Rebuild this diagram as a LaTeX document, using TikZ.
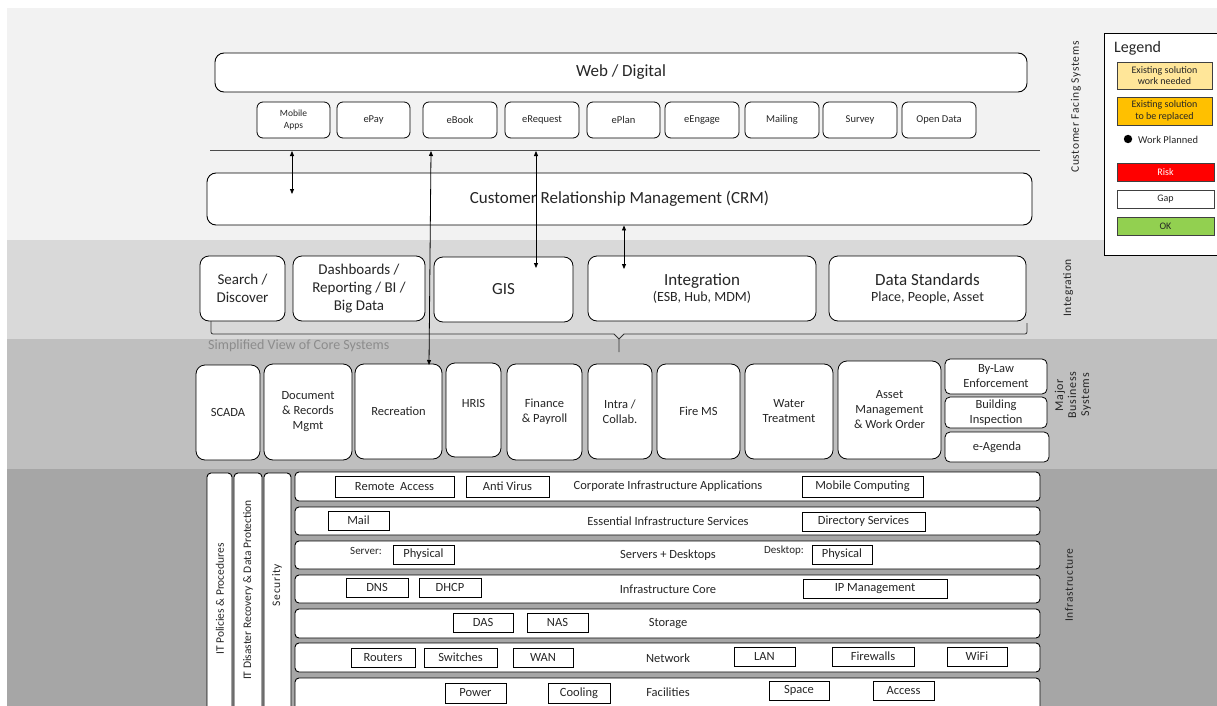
\documentclass[tikz,border=0pt]{standalone}
\usepackage{fontspec}
\setmainfont{Carlito}
\newfontfamily\spaced[LetterSpace=6]{Carlito}
\usetikzlibrary{arrows.meta}
\definecolor{bandA}{HTML}{F2F2F2}
\definecolor{bandB}{HTML}{D9D9D9}
\definecolor{bandC}{HTML}{BFBFBF}
\definecolor{bandD}{HTML}{A6A6A6}
\definecolor{ink}{HTML}{262626}
\definecolor{needwork}{HTML}{FFE699}
\definecolor{replace}{HTML}{FFC000}
\definecolor{risk}{HTML}{FF0000}
\definecolor{okgreen}{HTML}{92D050}
\definecolor{captiongray}{HTML}{8C8C8C}
\newcommand\fs[2]{\fontsize{#1}{#2}\selectfont}
% \cell{options}{x1}{y1}{x2}{y2}{name}{text}: a node filling the given corners
\newcommand\cell[6]{\node[#1, minimum width={(#4)-(#2)}, minimum height={(#5)-(#3)}] (#6) at ({((#2)+(#4))/2},{((#3)+(#5))/2})}

\begin{document}
\begin{tikzpicture}[x=1pt,y=-1pt,
  every node/.style={text=ink, inner sep=0pt, align=center},
  bigbox/.style={draw=black, fill=white, line width=0.9pt, rounded corners=9pt},
  appbox/.style={draw=black, fill=white, line width=0.8pt, rounded corners=6pt, font=\fs{10.5}{12}},
  sysbox/.style={draw=black, fill=white, line width=0.8pt, rounded corners=9pt, font=\fs{12.5}{15}},
  sidebox/.style={draw=black, fill=white, line width=0.8pt, rounded corners=5pt, font=\fs{12.5}{15}},
  layer/.style={draw=black, fill=white, line width=0.9pt, rounded corners=4pt},
  item/.style={draw=black, fill=white, line width=0.7pt, font=\fs{12.5}{15}},
  layertext/.style={font=\fs{12.5}{15}},
  sidetext/.style={font=\spaced\fs{11.5}{14}, rotate=90},
  keybox/.style={draw=black!75, line width=0.8pt, font=\fs{10}{11.5}},
  link/.style={{Triangle[length=5pt,width=4pt]}-{Triangle[length=5pt,width=4pt]}, line width=0.8pt, draw=black}
]
\useasboundingbox (0,0) rectangle (1217,706);
\clip (0,0) rectangle (1217,706);

% ---- background bands
\fill[white] (0,0) rectangle (1217,706);
\fill[bandA] (7,8) rectangle (1217,240);
\fill[bandB] (7,240) rectangle (1217,339);
\fill[bandC] (7,339) rectangle (1217,469);
\fill[bandD] (7,469) rectangle (1217,706);

% ---- customer facing systems
\cell{bigbox, font=\fs{17}{20}}{215}{53}{1027}{92}{web}{Web / Digital};
\cell{appbox, font=\fs{9.5}{11.5}}{257}{102}{330}{138}{mobile}{Mobile\\Apps};
\cell{appbox}{337}{102}{410}{138}{epay}{ePay};
\cell{appbox}{423}{102}{497}{138}{ebook}{eBook};
\cell{appbox}{505}{102}{579}{138}{erequest}{eRequest};
\cell{appbox}{587}{102}{660}{138}{eplan}{ePlan};
\cell{appbox}{665}{102}{739}{138}{eengage}{eEngage};
\cell{appbox}{745}{102}{819}{138}{mailing}{Mailing};
\cell{appbox}{823}{102}{897}{138}{survey}{Survey};
\cell{appbox}{902}{102}{976}{138}{opendata}{Open Data};

\draw[black!70, line width=1pt] (210,150) coordinate (sepL) -- (1040,150) coordinate (sepR);

\cell{bigbox, font=\fs{17}{20}}{207}{173}{1032}{225}{crm}{Customer Relationship Management (CRM)};

% ---- integration
\cell{sysbox, font=\fs{15}{18}}{200}{256}{285}{321}{search}{Search /\\Discover};
\cell{sysbox, font=\fs{15}{18}}{293}{256}{425}{321}{dash}{Dashboards /\\Reporting / BI /\\Big Data};
\cell{sysbox, font=\fs{17}{20}}{434}{257}{573}{322}{gis}{GIS};
\cell{sysbox}{588}{256}{816}{321}{integ}{{\fs{17}{20}Integration}\\[1pt]{\fs{14}{17}(ESB, Hub, MDM)}};
\cell{sysbox}{829}{256}{1026}{321}{datastd}{{\fs{17}{20}Data Standards}\\[1pt]{\fs{14}{17}Place, People, Asset}};

% bracket gathering the core systems
\draw[black!80, line width=0.8pt, rounded corners=2pt] (211,321) |- (614,334);
\draw[black!80, line width=0.8pt, rounded corners=2pt] (624,334) -| (1027,323);
\draw[black!80, line width=0.8pt] (614,334) -- (619,339) -- (624,334) (619,339) -- (619,352);
\node[anchor=west, text=captiongray, font=\fs{14}{17}] (coreview) at (208,346) {Simplified View of Core Systems};

% ---- major business systems
\cell{sysbox}{196}{365}{260}{460}{scada}{SCADA};
\cell{sysbox}{264}{364}{352}{460}{docs}{Document\\\& Records\\Mgmt};
\cell{sysbox}{355}{364}{442}{459}{recreation}{Recreation};
\cell{sysbox}{446}{363}{501}{457}{hris}{};
\node[font=\fs{12.5}{15}] (hristext) at (473.5,403) {HRIS};
\cell{sysbox}{507}{364}{582}{460}{finance}{Finance\\\& Payroll};
\cell{sysbox}{588}{364}{652}{459}{intra}{Intra /\\Collab.};
\cell{sysbox}{657}{364}{740}{459}{fire}{Fire MS};
\cell{sysbox}{745}{364}{833}{459}{water}{Water\\Treatment};
\cell{sysbox}{838}{361}{941}{459}{asset}{Asset\\Management\\\& Work Order};
\cell{sidebox}{945}{359}{1047}{394}{bylaw}{By-Law\\Enforcement};
\cell{sidebox}{945}{397}{1047}{428}{building}{Building\\Inspection};
\cell{sidebox}{945}{432}{1049}{462}{agenda}{e-Agenda};

% ---- infrastructure: cross-cutting columns
\cell{layer}{207}{473}{232}{714}{policies}{};
\cell{layer}{234}{473}{262}{714}{recovery}{};
\cell{layer}{264}{473}{291}{714}{security}{};
\node[sidetext, font=\fs{11.5}{14}] at (220,599) {IT Policies \& Procedures};
\node[sidetext, font=\fs{11.5}{14}] at (248,590) {IT Disaster Recovery \& Data Protection};
\node[sidetext] at (277,585) {Security};

% ---- infrastructure layers
\cell{layer}{295}{472}{1040}{501}{lay1}{};
\cell{layer}{295}{507}{1040}{535}{lay2}{};
\cell{layer}{295}{541}{1040}{569}{lay3}{};
\cell{layer}{295}{575}{1040}{603}{lay4}{};
\cell{layer}{295}{609}{1040}{638}{lay5}{};
\cell{layer}{295}{643}{1040}{672}{lay6}{};
\cell{layer}{295}{678}{1040}{714}{lay7}{};

\node[layertext] at (668,486.5) {Corporate Infrastructure Applications};
\cell{item}{335}{476}{454}{497}{remote}{Remote~ Access};
\cell{item}{466}{476}{549}{497}{antivirus}{Anti Virus};
\cell{item}{802}{476}{923}{497}{mobilecomp}{Mobile Computing};

\node[layertext] at (668,521) {Essential Infrastructure Services};
\cell{item}{328}{511}{389}{530}{mail}{Mail};
\cell{item}{802}{512}{925}{531}{directory}{Directory Services};

\node[layertext] at (668,555) {Servers + Desktops};
\node[font=\fs{11}{13}] at (366,551) {Server:};
\cell{item}{393}{545}{454}{564}{physserver}{Physical};
\node[font=\fs{11}{13}] at (784,551) {Desktop:};
\cell{item}{812}{545}{872}{564}{physdesk}{Physical};

\node[layertext] at (668,589) {Infrastructure Core};
\cell{item}{346}{578}{408}{597}{dns}{DNS};
\cell{item}{419}{578}{481}{597}{dhcp}{DHCP};
\cell{item}{803}{579}{947}{598}{ipm}{IP Management};

\node[layertext] at (668,623.5) {Storage};
\cell{item}{453}{613}{513}{632}{das}{DAS};
\cell{item}{527}{613}{588}{632}{nas}{NAS};

\node[layertext] at (668,658) {Network};
\cell{item}{351}{648}{415}{667}{routers}{Routers};
\cell{item}{424}{648}{497}{667}{switches}{Switches};
\cell{item}{513}{648}{573}{667}{wan}{WAN};
\cell{item}{734}{647}{795}{666}{lan}{LAN};
\cell{item}{832}{647}{914}{666}{firewalls}{Firewalls};
\cell{item}{947}{647}{1007}{666}{wifi}{WiFi};

\node[layertext] at (668,692) {Facilities};
\cell{item}{445}{683}{506}{703}{power}{Power};
\cell{item}{548}{683}{610}{703}{cooling}{Cooling};
\cell{item}{769}{681}{829}{700}{space}{Space};
\cell{item}{873}{681}{934}{700}{access}{Access};

% ---- layer captions
\node[sidetext] (capcfs) at (1076,107) {Customer Facing Systems};
\node[sidetext] (capint) at (1068,288) {Integration};
\node[sidetext, font=\spaced\fs{12}{13}] (capmbs) at (1073,395) {Major\\Business\\Systems};
\node[sidetext] (capinf) at (1069,585) {Infrastructure};

% ---- connectors
\coordinate (mobTop) at (292,151);
\coordinate (mobEnd) at (292,194);
\coordinate (ebTop) at (431,151);
\coordinate (ebEnd) at (429,365);
\coordinate (erTop) at (536,151);
\coordinate (erEnd) at (536,268);
\coordinate (crmEnd) at (624,269);
\draw[link] (mobTop) -- (mobEnd);
\draw[link] (ebTop) -- (ebEnd);
\draw[link] (erTop) -- (erEnd);
\draw[link] (crm.south -| crmEnd) -- (crmEnd);

% ---- legend
\cell{draw=black, fill=white, line width=0.9pt}{1104}{33}{1225}{255}{legend}{};
\node[anchor=west, font=\fs{16}{19}] (legendtitle) at (1114,48) {Legend};
\cell{keybox, fill=needwork}{1117}{62}{1212}{89}{kneed}{Existing solution\\work needed};
\cell{keybox, fill=replace}{1117}{97}{1212}{125}{krepl}{Existing solution\\to be replaced};
\fill[black] (1128,139) circle (4.2pt);
\node[anchor=west, font=\fs{10.5}{12}] (kplan) at (1138,139.5) {Work Planned};
\cell{keybox, fill=risk, text=white}{1117}{163}{1214}{181}{krisk}{Risk};
\cell{keybox, fill=white}{1117}{190}{1214}{208}{kgap}{Gap};
\cell{keybox, fill=okgreen}{1117}{217}{1214}{235}{kok}{OK};
\end{tikzpicture}
\end{document}
